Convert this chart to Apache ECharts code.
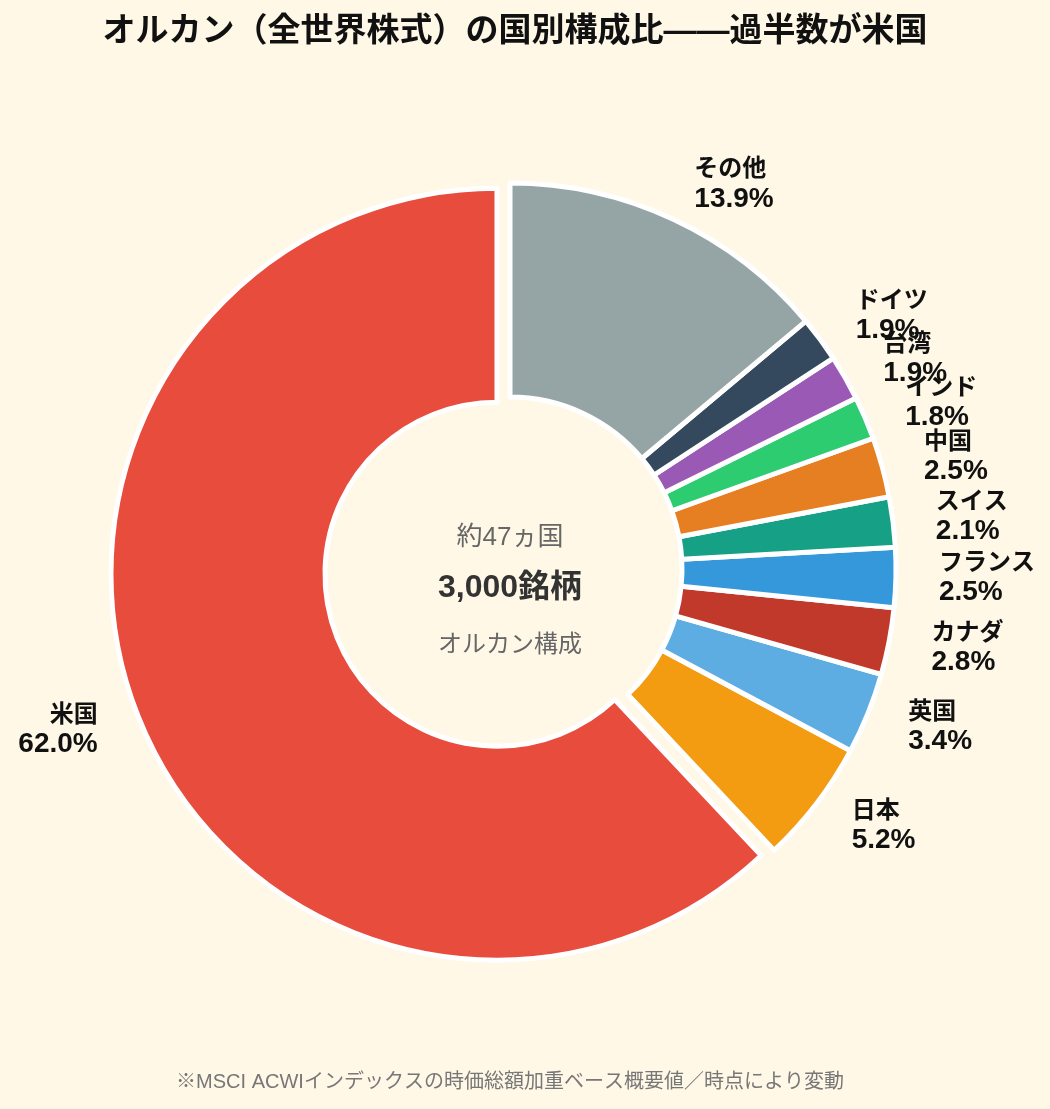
<!DOCTYPE html>
<html>
<head>
<meta charset="utf-8">
<script src="https://cdn.jsdelivr.net/npm/echarts@6/dist/echarts.min.js"></script>
<style>
html,body{margin:0;padding:0;background:#FFF8E7;}
#chart{width:1050px;height:1109px;}
</style>
</head>
<body>
<div id="chart"></div>
<script>
// Data (drawn counter-clockwise from top)
const countries = ['米国', '日本', '英国', 'カナダ', 'フランス', 'スイス', '中国', 'インド', '台湾', 'ドイツ', 'その他'];
const shares = [62.0, 5.2, 3.4, 2.8, 2.5, 2.1, 2.5, 1.8, 1.9, 1.9, 13.9];
const sliceColors = ['#E74C3C', '#F39C12', '#5DADE2', '#C0392B', '#3498DB', '#16A085', '#E67E22', '#2ECC71', '#9B59B6', '#34495E', '#95A5A6'];
const titleText = 'オルカン（全世界株式）の国別構成比——過半数が米国';
const centerLines = ['約47ヵ国', '3,000銘柄', 'オルカン構成'];
const footnote = '※MSCI ACWIインデックスの時価総額加重ベース概要値／時点により変動';

const FONT = '"Liberation Sans", "Noto Sans CJK JP", sans-serif';
const cx = 510, cy = 569;

const chart = echarts.init(document.getElementById('chart'), null, { renderer: 'canvas' });
const option = {
  backgroundColor: '#FFF8E7',
  animation: false,
  title: {
    text: titleText,
    left: cx,
    top: 10,
    textAlign: 'center',
    textStyle: { fontSize: 33, fontWeight: 'bold', color: '#111', fontFamily: FONT }
  },
  series: [{
    type: 'pie',
    center: [cx, cy],
    radius: [172, 386],
    startAngle: 90,
    clockwise: false,
    avoidLabelOverlap: false,
    selectedMode: 'single',
    selectedOffset: 14,
    itemStyle: { borderColor: '#ffffff', borderWidth: 5 },
    select: { itemStyle: { borderColor: '#ffffff', borderWidth: 5 } },
    emphasis: { disabled: true },
    labelLayout: { hideOverlap: false },
    label: {
      show: true,
      position: 'outside',
      formatter: p => '{n|' + p.name + '}\n{v|' + p.value.toFixed(1) + '%}',
      color: '#111',
      fontFamily: FONT,
      fontWeight: 'bold',
      rich: {
        n: { fontSize: 24, fontWeight: 'bold', lineHeight: 28, color: '#111', fontFamily: FONT },
        v: { fontSize: 28, fontWeight: 'bold', lineHeight: 30, color: '#111', fontFamily: FONT }
      }
    },
    labelLine: { show: false, length: 38, length2: 0 },
    data: countries.map((c, i) => ({
      name: c,
      value: shares[i],
      selected: i === 0,
      itemStyle: { color: sliceColors[i] }
    }))
  }],
  graphic: [
    { type: 'text', x: cx, y: 538, silent: true,
      style: { text: centerLines[0], fontSize: 26, fill: '#666', align: 'center', verticalAlign: 'middle', fontFamily: FONT } },
    { type: 'text', x: cx, y: 588, silent: true,
      style: { text: centerLines[1], fontSize: 32, fontWeight: 'bold', fill: '#333', align: 'center', verticalAlign: 'middle', fontFamily: FONT } },
    { type: 'text', x: cx, y: 645, silent: true,
      style: { text: centerLines[2], fontSize: 24, fill: '#666', align: 'center', verticalAlign: 'middle', fontFamily: FONT } },
    { type: 'text', x: cx, y: 1082, silent: true,
      style: { text: footnote, fontSize: 20, fill: '#777', align: 'center', verticalAlign: 'middle', fontFamily: FONT } }
  ]
};
chart.setOption(option);
</script>
</body>
</html>
